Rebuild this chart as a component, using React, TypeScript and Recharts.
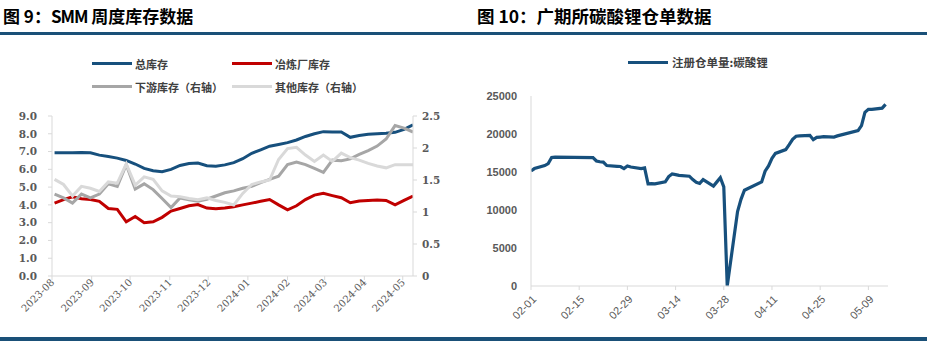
import React from "react";
import { LineChart, Line, XAxis, YAxis, Legend } from "recharts";

// ---------- Chart 9: SMM weekly inventory ----------
const weekDates = [
  "2023-08-03", "2023-08-10", "2023-08-17", "2023-08-24", "2023-08-31",
  "2023-09-07", "2023-09-14", "2023-09-21", "2023-09-28",
  "2023-10-05", "2023-10-12", "2023-10-19", "2023-10-26",
  "2023-11-02", "2023-11-09", "2023-11-16", "2023-11-23", "2023-11-30",
  "2023-12-07", "2023-12-14", "2023-12-21", "2023-12-28",
  "2024-01-04", "2024-01-11", "2024-01-18", "2024-01-25",
  "2024-02-01", "2024-02-08", "2024-02-15", "2024-02-22", "2024-02-29",
  "2024-03-07", "2024-03-14", "2024-03-21", "2024-03-28",
  "2024-04-04", "2024-04-11", "2024-04-18", "2024-04-25",
  "2024-05-02", "2024-05-09",
];
const totalInv = [
  6.93, 6.93, 6.93, 6.95, 6.93, 6.8, 6.72, 6.63, 6.5, 6.3, 6.05, 5.92, 5.87, 6.0,
  6.22, 6.33, 6.35, 6.2, 6.18, 6.25, 6.38, 6.6, 6.9, 7.1, 7.3, 7.4, 7.5, 7.65, 7.85,
  8.0, 8.12, 8.1, 8.1, 7.8, 7.9, 7.97, 8.0, 8.03, 8.08, 8.25, 8.5,
];
const smelterInv = [
  4.1, 4.3, 4.45, 4.35, 4.3, 4.2, 3.8, 3.75, 3.05, 3.35, 3.0, 3.05, 3.3, 3.65, 3.8,
  3.95, 4.02, 3.82, 3.78, 3.82, 3.9, 4.0, 4.1, 4.2, 4.3, 4.0, 3.72, 3.95, 4.3, 4.55,
  4.65, 4.52, 4.4, 4.12, 4.22, 4.25, 4.27, 4.25, 4.0, 4.25, 4.5,
];
const downstreamInv = [
  1.28, 1.22, 1.14, 1.28, 1.22, 1.28, 1.44, 1.4, 1.74, 1.36, 1.44, 1.35, 1.21, 1.07,
  1.22, 1.19, 1.17, 1.2, 1.25, 1.3, 1.33, 1.37, 1.4, 1.46, 1.51, 1.56, 1.74, 1.78,
  1.74, 1.68, 1.62, 1.81, 1.8, 1.83, 1.9, 1.96, 2.03, 2.14, 2.35, 2.31, 2.25,
];
const otherInv = [
  1.51, 1.43, 1.25, 1.4, 1.37, 1.32, 1.47, 1.45, 1.75, 1.42, 1.55, 1.51, 1.33, 1.25,
  1.24, 1.21, 1.19, 1.22, 1.18, 1.15, 1.11, 1.29, 1.43, 1.47, 1.5, 1.82, 1.99, 2.01,
  1.89, 1.79, 1.89, 1.79, 1.92, 1.85, 1.81, 1.76, 1.72, 1.69, 1.74, 1.74, 1.74,
];
const monthTicks = [
  "2023-08", "2023-09", "2023-10", "2023-11", "2023-12",
  "2024-01", "2024-02", "2024-03", "2024-04", "2024-05",
];
const leftTicks = [0, 1, 2, 3, 4, 5, 6, 7, 8, 9];
const rightTicks = [0, 0.5, 1, 1.5, 2, 2.5];

// ---------- Chart 10: GFEX lithium carbonate warehouse receipts ----------
const lcDates = [
  "2024-02-01", "2024-02-02", "2024-02-05", "2024-02-06", "2024-02-07", "2024-02-08",
  "2024-02-19", "2024-02-20", "2024-02-21", "2024-02-22", "2024-02-23",
  "2024-02-26", "2024-02-27", "2024-02-28", "2024-02-29",
  "2024-03-01", "2024-03-04", "2024-03-05", "2024-03-06", "2024-03-07", "2024-03-08",
  "2024-03-11", "2024-03-12", "2024-03-13", "2024-03-14", "2024-03-15",
  "2024-03-18", "2024-03-19", "2024-03-20", "2024-03-21", "2024-03-22",
  "2024-03-25", "2024-03-26", "2024-03-27", "2024-03-28", "2024-03-29",
  "2024-04-01", "2024-04-02", "2024-04-03",
  "2024-04-08", "2024-04-09", "2024-04-10", "2024-04-11", "2024-04-12",
  "2024-04-15", "2024-04-16", "2024-04-17", "2024-04-18", "2024-04-19",
  "2024-04-22", "2024-04-23", "2024-04-24", "2024-04-25", "2024-04-26",
  "2024-04-29", "2024-04-30",
  "2024-05-06", "2024-05-07", "2024-05-08", "2024-05-09", "2024-05-10",
  "2024-05-13", "2024-05-14",
];
const lcReceipts = [
  15130, 15450, 15850, 16100, 16900, 16950,
  16900, 16450, 16350, 16300, 15850,
  15750, 15720, 15450, 15800,
  15650, 15450, 15550, 13450, 13480, 13450,
  13700, 14400, 14750, 14650, 14550,
  14450, 14000, 13650, 13500, 14000,
  13150, 13700, 14250, 13050, 0,
  9800, 11400, 12600,
  13700, 15100, 15800, 16800, 17450,
  17950, 18600, 19300, 19700, 19750,
  19830, 19250, 19550, 19600, 19650,
  19600, 19750,
  20450, 21100, 22850, 23250, 23250,
  23400, 23900,
];
const lcTickDates = [
  "2024-02-01", "2024-02-15", "2024-02-29", "2024-03-14",
  "2024-03-28", "2024-04-11", "2024-04-25", "2024-05-09",
];
const lcYTicks = [0, 5000, 10000, 15000, 20000, 25000];

// ---------- helpers ----------
const DAY = 86400000;
const toUTC = (s: string) => {
  const [y, m, d] = s.split("-").map(Number);
  return Date.UTC(y, m - 1, d || 1);
};
const leftBase = toUTC("2023-08-01");
const rightBase = toUTC("2024-02-01");
const leftTickDays = monthTicks.map((m) => (toUTC(m) - leftBase) / DAY);
const rightTickDays = lcTickDates.map((d) => (toUTC(d) - rightBase) / DAY);

const smmData = weekDates.map((d, i) => ({
  day: (toUTC(d) - leftBase) / DAY,
  total: totalInv[i],
  smelter: smelterInv[i],
  downstream: downstreamInv[i],
  other: otherInv[i],
}));
const lcData = lcDates.map((d, i) => ({
  day: (toUTC(d) - rightBase) / DAY,
  receipts: lcReceipts[i],
}));

const BLUE = "#17507d";
const RED = "#c00000";
const DGRAY = "#a6a6a6";
const LGRAY = "#d9d9d9";
const BAR = "#1a5078";
const AXIS = "#d9d9d9";
const TXT = "#595959";
const CJK = "'Noto Sans CJK SC', 'Noto Sans', sans-serif";

const leftMonthLabel = (v: number) => {
  const idx = leftTickDays.indexOf(v);
  return idx >= 0 ? monthTicks[idx] : "";
};
const rightDayLabel = (v: number) => {
  const dt = new Date(rightBase + v * DAY);
  const mm = String(dt.getUTCMonth() + 1).padStart(2, "0");
  const dd = String(dt.getUTCDate()).padStart(2, "0");
  return `${mm}-${dd}`;
};

const LeftXTick = (props: any) => {
  const { x, y, payload } = props;
  return (
    <g transform={`translate(${x + 3},${y + 1})`}>
      <text
        textAnchor="end"
        transform="rotate(-45)"
        fontSize={10}
        fontFamily="'DejaVu Serif', serif"
        fill={TXT}
      >
        {leftMonthLabel(payload.value)}
      </text>
    </g>
  );
};

const RightXTick = (props: any) => {
  const { x, y, payload } = props;
  return (
    <g transform={`translate(${x + 6},${y + 8})`}>
      <text
        textAnchor="end"
        transform="rotate(-45)"
        fontSize={11}
        fontFamily="'Liberation Sans', Arial, sans-serif"
        fill={TXT}
      >
        {rightDayLabel(payload.value)}
      </text>
    </g>
  );
};

const LegendSwatch = ({ color, label, width }: { color: string; label: string; width: number }) => (
  <div style={{ display: "flex", alignItems: "center", width, height: 23 }}>
    <span style={{ display: "inline-block", width: 40, height: 3, background: color, marginRight: 3 }} />
    <span style={{ fontSize: 11, fontWeight: 700, color: "#404040", fontFamily: CJK, whiteSpace: "nowrap" }}>
      {label}
    </span>
  </div>
);

const SmmLegend = () => (
  <div>
    <div style={{ display: "flex" }}>
      <LegendSwatch color={BLUE} label="总库存" width={140} />
      <LegendSwatch color={RED} label="冶炼厂库存" width={140} />
    </div>
    <div style={{ display: "flex" }}>
      <LegendSwatch color={DGRAY} label="下游库存（右轴）" width={140} />
      <LegendSwatch color={LGRAY} label="其他库存（右轴）" width={140} />
    </div>
  </div>
);

const LcLegend = () => (
  <div style={{ display: "flex", alignItems: "center", height: 20 }}>
    <span style={{ display: "inline-block", width: 40, height: 3, background: BLUE, marginRight: 4 }} />
    <span style={{ fontSize: 11.5, fontWeight: 700, color: "#404040", fontFamily: CJK, whiteSpace: "nowrap" }}>
      注册仓单量:碳酸锂
    </span>
  </div>
);

const titleStyle: React.CSSProperties = {
  position: "absolute",
  top: 4,
  fontFamily: CJK,
  fontWeight: 700,
  fontSize: 17,
  color: "#000",
  whiteSpace: "nowrap",
  lineHeight: "24px",
};

export default function App() {
  return (
    <div style={{ position: "absolute", left: 0, top: 0, width: 948, height: 341, background: "#fff", overflow: "hidden" }}>
      {/* titles and rules */}
      <div style={{ ...titleStyle, left: 3 }}>
        图 9：<span style={{ letterSpacing: -1 }}>SMM</span> 周度库存数据
      </div>
      <div style={{ ...titleStyle, left: 477, fontSize: 17.5 }}>图 10：广期所碳酸锂仓单数据</div>
      <div style={{ position: "absolute", left: 0, top: 32, width: 927, height: 3, background: BAR }} />
      <div style={{ position: "absolute", left: 0, top: 337, width: 927, height: 4, background: BAR }} />

      {/* left chart */}
      <div style={{ position: "absolute", left: 0, top: 0 }}>
        <LineChart width={474} height={341} data={smmData} margin={{ top: 116, right: 0, bottom: 0, left: 0 }}>
          <XAxis
            type="number"
            dataKey="day"
            domain={[0, 282]}
            ticks={leftTickDays}
            interval={0}
            height={65}
            stroke={AXIS}
            tickSize={4}
            tick={<LeftXTick />}
            allowDataOverflow
          />
          <YAxis
            yAxisId="left"
            orientation="left"
            width={52}
            domain={[0, 9]}
            ticks={leftTicks}
            interval={0}
            stroke={AXIS}
            tickSize={4}
            tickMargin={11}
            tickFormatter={(v: number) => v.toFixed(1)}
            tick={{ fill: TXT, fontSize: 10.5, fontWeight: 700, fontFamily: "'DejaVu Serif', serif" }}
          />
          <YAxis
            yAxisId="right"
            orientation="right"
            width={61}
            domain={[0, 2.5]}
            ticks={rightTicks}
            interval={0}
            stroke={AXIS}
            tickSize={4}
            tickMargin={5}
            tick={{ fill: TXT, fontSize: 10.5, fontWeight: 700, fontFamily: "'DejaVu Serif', serif" }}
          />
          <Legend
            layout="horizontal"
            verticalAlign="middle"
            align="center"
            content={<SmmLegend />}
            wrapperStyle={{ top: 52, left: 92, width: 300, height: 46 }}
          />
          <Line yAxisId="left" type="linear" dataKey="total" stroke={BLUE} strokeWidth={3} dot={false} isAnimationActive={false} />
          <Line yAxisId="left" type="linear" dataKey="smelter" stroke={RED} strokeWidth={3} dot={false} isAnimationActive={false} />
          <Line yAxisId="right" type="linear" dataKey="downstream" stroke={DGRAY} strokeWidth={3} dot={false} isAnimationActive={false} />
          <Line yAxisId="right" type="linear" dataKey="other" stroke={LGRAY} strokeWidth={3} dot={false} isAnimationActive={false} />
        </LineChart>
      </div>

      {/* right chart */}
      <div style={{ position: "absolute", left: 474, top: 0 }}>
        <LineChart width={474} height={341} data={lcData} margin={{ top: 96, right: 60, bottom: 0, left: 0 }}>
          <XAxis
            type="number"
            dataKey="day"
            domain={[0, 103.7]}
            ticks={rightTickDays}
            interval={0}
            height={55}
            stroke={AXIS}
            tickSize={4}
            tick={<RightXTick />}
            allowDataOverflow
          />
          <YAxis
            width={57}
            domain={[0, 25000]}
            ticks={lcYTicks}
            interval={0}
            stroke={AXIS}
            tickLine={false}
            tickSize={4}
            tickMargin={10}
            tick={{ fill: TXT, fontSize: 11, fontWeight: 700, fontFamily: "'Liberation Sans', Arial, sans-serif" }}
          />
          <Legend
            layout="horizontal"
            verticalAlign="middle"
            align="center"
            content={<LcLegend />}
            wrapperStyle={{ top: 52, left: 154, width: 200, height: 20 }}
          />
          <Line type="linear" dataKey="receipts" stroke={BLUE} strokeWidth={3.2} dot={false} isAnimationActive={false} />
        </LineChart>
      </div>
    </div>
  );
}
